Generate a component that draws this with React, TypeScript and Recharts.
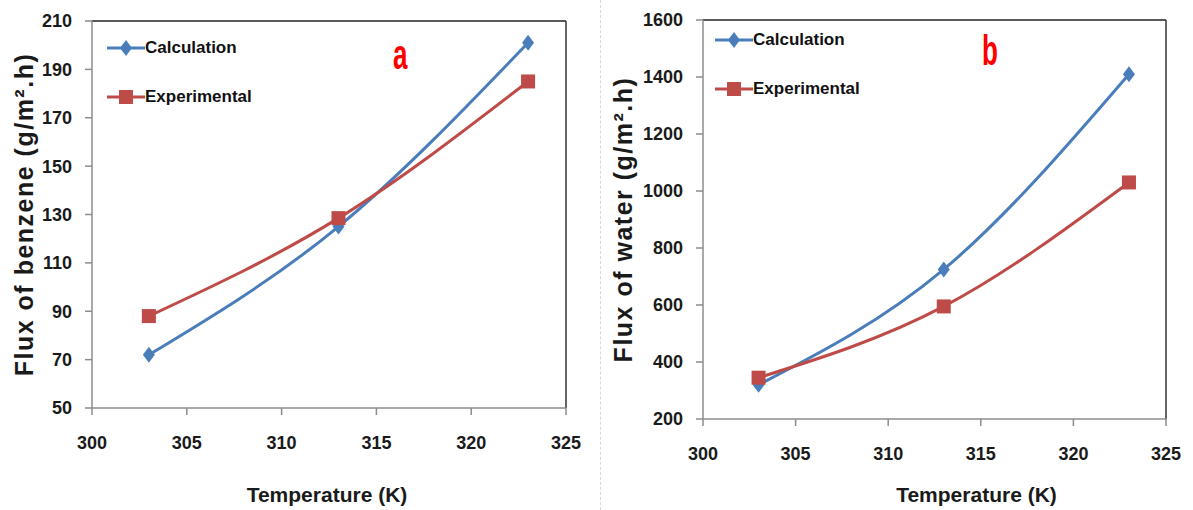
import { Line, LineChart, ReferenceLine, XAxis, YAxis } from "recharts";

const temperatures = [303, 313, 323];
const benzeneCalc = [72, 125, 201];
const benzeneExp = [88, 128.5, 185];
const waterCalc = [320, 725, 1410];
const waterExp = [345, 595, 1030];

const xTicks = [300, 305, 310, 315, 320, 325];
const benzeneTicks = [50, 70, 90, 110, 130, 150, 170, 190, 210];
const waterTicks = [200, 400, 600, 800, 1000, 1200, 1400, 1600];

const BLUE = "#4a7ebb";
const RED = "#be4b48";
const FONT = "'Liberation Sans', Arial, sans-serif";

const benzeneData = temperatures.map((t, i) => ({ t, calc: benzeneCalc[i], exp: benzeneExp[i] }));
const waterData = temperatures.map((t, i) => ({ t, calc: waterCalc[i], exp: waterExp[i] }));

const Diamond = (props: any) => {
  const { cx, cy } = props;
  if (cx == null || cy == null) return null;
  return <path d={`M${cx},${cy - 8} L${cx + 6},${cy} L${cx},${cy + 8} L${cx - 6},${cy} Z`} fill={BLUE} />;
};

const Square = (props: any) => {
  const { cx, cy } = props;
  if (cx == null || cy == null) return null;
  return <rect x={cx - 7} y={cy - 7} width={14} height={14} fill={RED} />;
};

// legend drawn by hand, Excel style, inside the plot
const LegendBox = ({ left, top }: { left: number; top: number }) => (
  <div
    style={{
      position: "absolute",
      left,
      top,
      fontFamily: FONT,
      fontWeight: "bold",
      fontSize: 17,
      color: "#111",
    }}
  >
    <div style={{ display: "flex", alignItems: "center", height: 20 }}>
      <svg width={38} height={20}>
        <line x1={0} y1={10} x2={38} y2={10} stroke={BLUE} strokeWidth={3} />
        <path d="M19,2 L25,10 L19,18 L13,10 Z" fill={BLUE} />
      </svg>
      <span>Calculation</span>
    </div>
    <div style={{ display: "flex", alignItems: "center", height: 20, marginTop: 29 }}>
      <svg width={38} height={20}>
        <line x1={0} y1={10} x2={38} y2={10} stroke={RED} strokeWidth={3} />
        <rect x={12} y={3} width={14} height={14} fill={RED} />
      </svg>
      <span>Experimental</span>
    </div>
  </div>
);

type PanelProps = {
  data: { t: number; calc: number; exp: number }[];
  yTicks: number[];
  yLabel: string;
  letter: string;
  width: number;
  plotLeft: number;
  plotRight: number;
  plotTop: number;
  plotBottom: number;
  letterX: number;
  letterY: number;
  legendLeft: number;
  legendTop: number;
  titleDx: number;
  yLabelX: number;
};

function Panel(p: PanelProps) {
  const tick = { fill: "#1a1a1a", fontSize: 18, fontWeight: "bold", fontFamily: FONT };
  const yMax = p.yTicks[p.yTicks.length - 1];
  return (
    <div style={{ position: "relative", width: p.width, height: 510 }}>
      <LineChart
        width={p.width}
        height={510}
        data={p.data}
        margin={{ top: p.plotTop, right: p.width - p.plotRight, bottom: 0, left: 0 }}
      >
        <XAxis
          dataKey="t"
          type="number"
          domain={[300, 325]}
          ticks={xTicks}
          height={510 - p.plotBottom}
          tickSize={7}
          tickMargin={21}
          stroke="#8c8c8c"
          strokeWidth={1.5}
          tick={tick}
          label={{
            value: "Temperature (K)",
            position: "insideBottom",
            offset: 8,
            dx: p.titleDx,
            style: { fill: "#1a1a1a", fontSize: 21, fontWeight: "bold", fontFamily: FONT },
          }}
        />
        <YAxis
          domain={[p.yTicks[0], yMax]}
          ticks={p.yTicks}
          width={p.plotLeft}
          tickSize={7}
          tickMargin={13}
          stroke="#8c8c8c"
          strokeWidth={1.5}
          tick={tick}
          label={{
            value: p.yLabel,
            angle: -90,
            position: "insideLeft",
            offset: p.yLabelX,
            style: {
              textAnchor: "middle",
              fill: "#1a1a1a",
              fontSize: 25,
              letterSpacing: 1.5,
              fontWeight: "bold",
              fontFamily: FONT,
            },
          }}
        />
        <ReferenceLine y={yMax} stroke="#222" strokeWidth={1.5} />
        <ReferenceLine x={325} stroke="#333" strokeWidth={1.5} />
        <Line type="monotone" dataKey="calc" stroke={BLUE} strokeWidth={3} dot={<Diamond />} activeDot={false} isAnimationActive={false} />
        <Line type="monotone" dataKey="exp" stroke={RED} strokeWidth={3} dot={<Square />} activeDot={false} isAnimationActive={false} />
      </LineChart>
      <LegendBox left={p.legendLeft} top={p.legendTop} />
      <div
        style={{
          position: "absolute",
          left: p.letterX,
          top: p.letterY,
          color: "#ff0000",
          fontSize: 42,
          lineHeight: "42px",
          fontWeight: "bold",
          fontFamily: FONT,
          transform: "scaleX(0.62)",
          transformOrigin: "left top",
        }}
      >
        {p.letter}
      </div>
    </div>
  );
}

export default function App() {
  return (
    <div style={{ position: "absolute", left: 0, top: 0, width: 1193, height: 510, background: "#fff", display: "flex" }}>
      <Panel
        data={benzeneData}
        yTicks={benzeneTicks}
        yLabel="Flux of benzene (g/m².h)"
        letter="a"
        width={600}
        plotLeft={92}
        plotRight={566}
        plotTop={21}
        plotBottom={408}
        letterX={393}
        letterY={34}
        legendLeft={107}
        legendTop={38}
        titleDx={-2}
        yLabelX={24}
      />
      <div style={{ position: "relative", borderLeft: "1px dashed #d8d8d8", height: 510, width: 0 }} />
      <Panel
        data={waterData}
        yTicks={waterTicks}
        yLabel="Flux of water (g/m².h)"
        letter="b"
        width={593}
        plotLeft={102}
        plotRight={565}
        plotTop={20}
        plotBottom={419}
        letterX={381}
        letterY={30}
        legendLeft={114}
        legendTop={30}
        titleDx={42}
        yLabelX={22}
      />
    </div>
  );
}
